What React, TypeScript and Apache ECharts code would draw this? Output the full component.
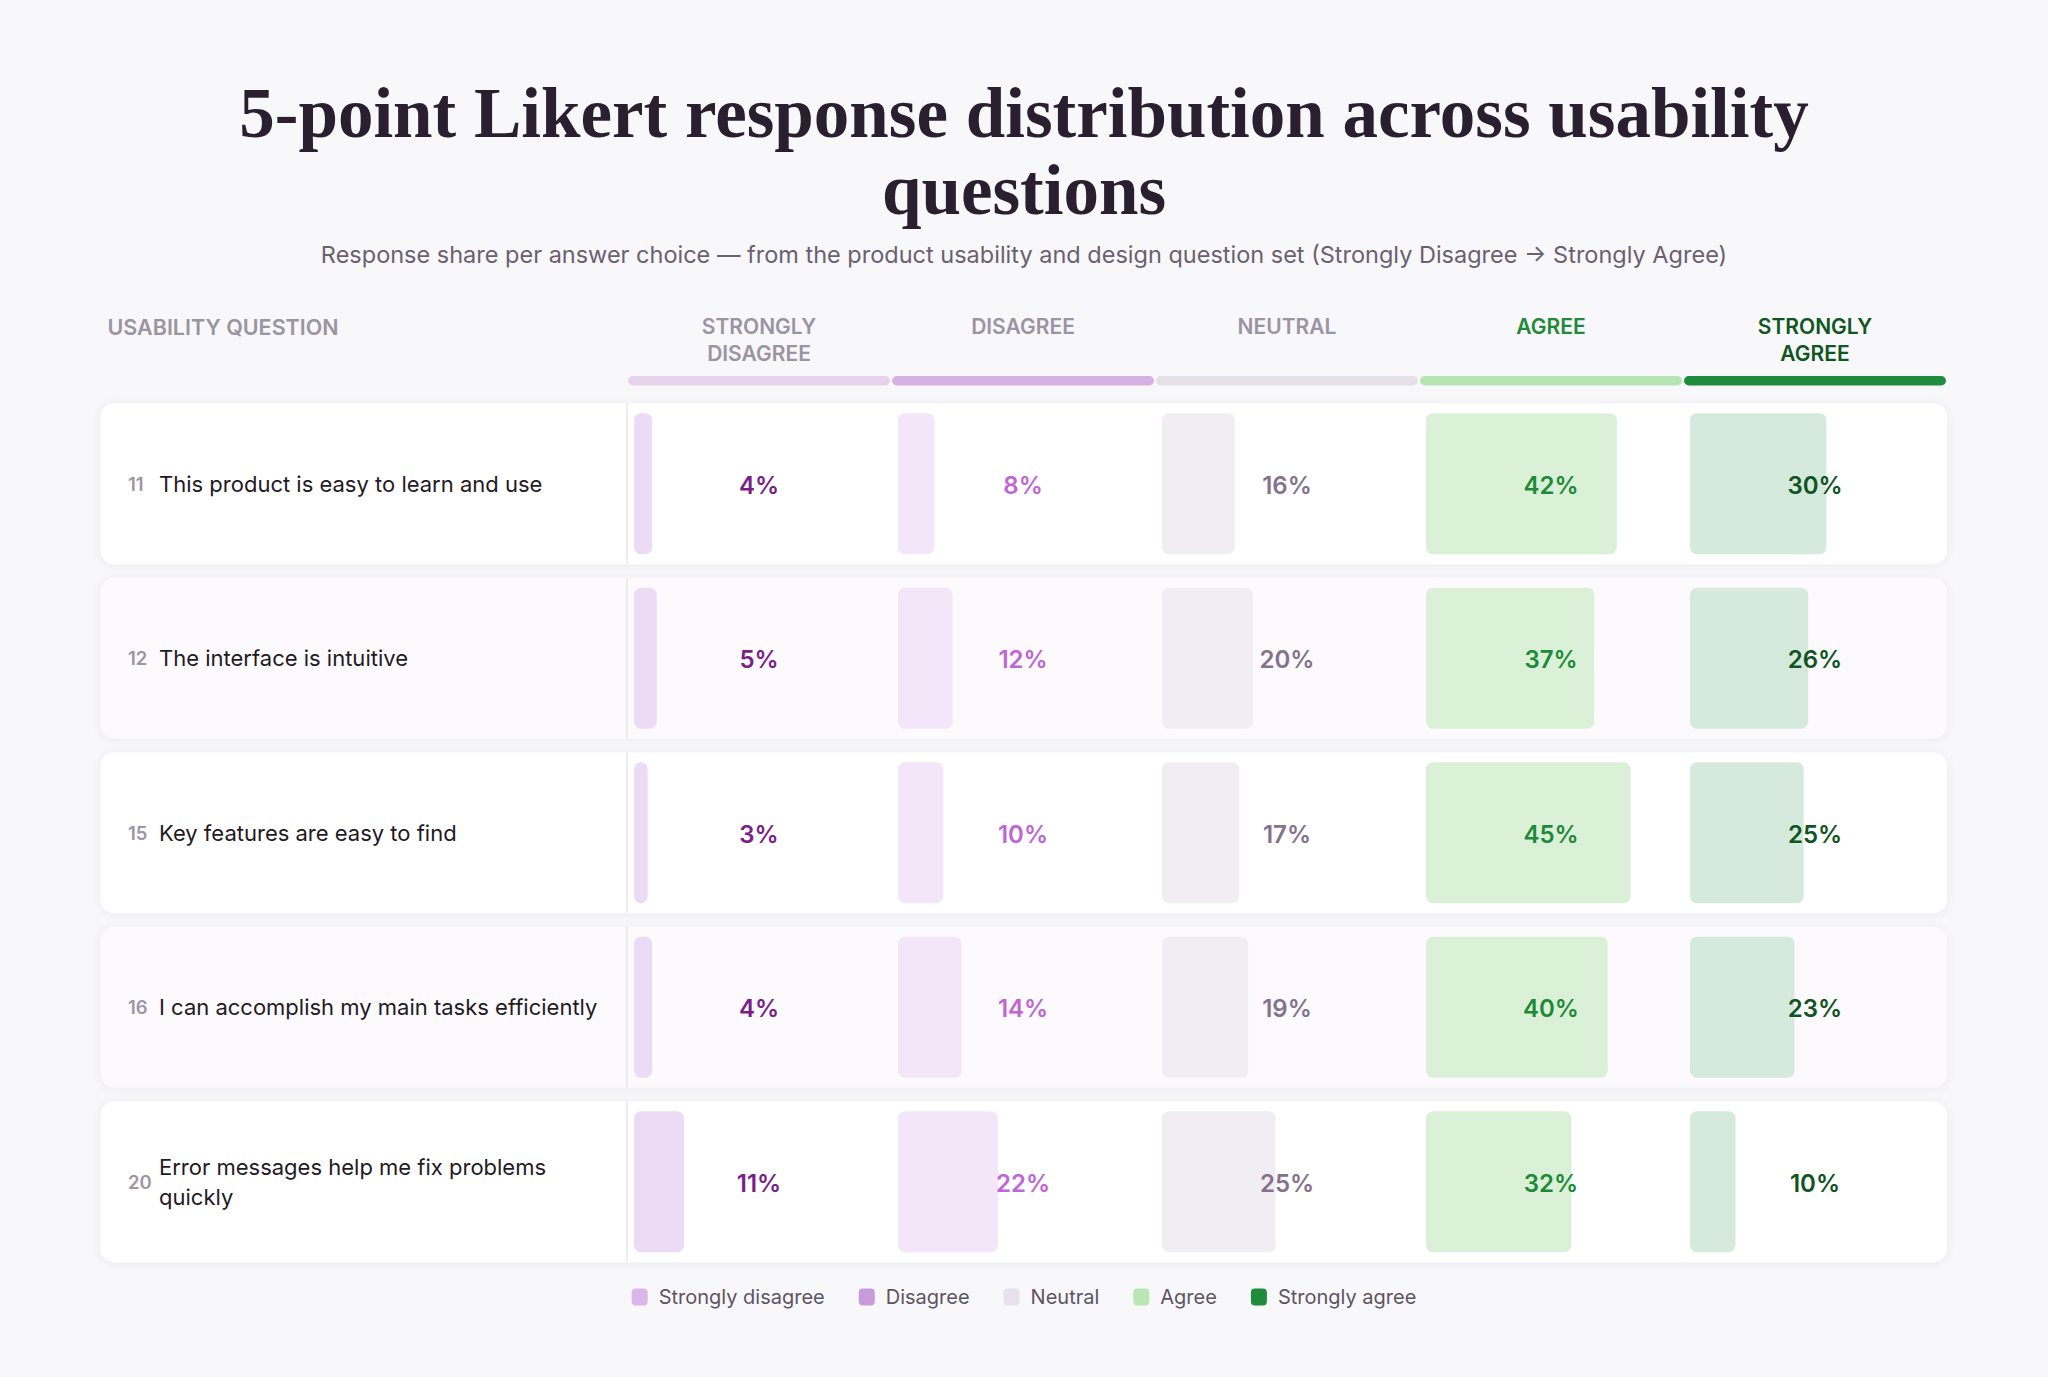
import React, { useEffect, useRef } from "react";
import * as echarts from "echarts";

// ---- data ----
const questionIds = ["11", "12", "15", "16", "20"];
const questions = [
  "This product is easy to learn and use",
  "The interface is intuitive",
  "Key features are easy to find",
  "I can accomplish my main tasks efficiently",
  "Error messages help me fix problems quickly",
];
const responseLevels = ["Strongly disagree", "Disagree", "Neutral", "Agree", "Strongly agree"];
const columnHeaders = ["STRONGLY\nDISAGREE", "DISAGREE", "NEUTRAL", "AGREE", "STRONGLY\nAGREE"];

const stronglyDisagree = [4, 5, 3, 4, 11];
const disagree = [8, 12, 10, 14, 22];
const neutral = [16, 20, 17, 19, 25];
const agree = [42, 37, 45, 40, 32];
const stronglyAgree = [30, 26, 25, 23, 10];

const seriesValues = [stronglyDisagree, disagree, neutral, agree, stronglyAgree];

const titleText = "5-point Likert response distribution across usability\nquestions";
const subtitleText =
  "Response share per answer choice \u2014 from the product usability and design question set (Strongly Disagree \u2192 Strongly Agree)";

// ---- styling ----
const FONT = "Inter, 'Noto Sans', sans-serif";
const barFill = ["#ecdbf4", "#f3e6f8", "#f0eef3", "#dbf1d7", "#d5eadc"];
const labelColor = ["#7a1f88", "#c065d6", "#84728c", "#1c8a39", "#0f5421"];
const stripColor = ["#e7d3ec", "#d5b2e3", "#e6e1e9", "#b7e5b1", "#1f8b3d"];
const legendColor = ["#dbb6ea", "#c99bdc", "#e6e1ea", "#b9e6b2", "#1f8b3c"];
const headerColor = ["#9b94a2", "#9b94a2", "#9b94a2", "#1e8a3a", "#10561f"];

// ---- layout ----
const CARD_LEFT = 100.5;
const CARD_RIGHT = 1947;
const COL_START = 627;
const COL_W = 264;
const BAR_INSET = 7;
const PLOT_W = 250;
const ROWS_TOP = 396.5;
const ROW_PITCH = 174.5;
const CARD_H = 161;
const BAR_H = 141;
const AXIS_MAX = 55;

const colLeft = (c: number) => COL_START + c * COL_W;
const plotLeft = (c: number) => colLeft(c) + BAR_INSET;

function buildOption(): any {
  const nRows = questions.length;
  const gridHeight = ROW_PITCH * nRows;

  const grids: any[] = responseLevels.map((_, c) => ({
    left: plotLeft(c),
    top: ROWS_TOP,
    width: PLOT_W,
    height: gridHeight,
  }));
  grids.push({ left: CARD_LEFT, top: ROWS_TOP, width: CARD_RIGHT - CARD_LEFT, height: gridHeight });

  const xAxes: any[] = responseLevels.map((_, c) => ({
    type: "value",
    gridIndex: c,
    min: 0,
    max: AXIS_MAX,
    show: false,
  }));
  xAxes.push({ type: "value", gridIndex: 5, min: 0, max: 1, show: false });

  const hiddenCat = (gridIndex: number) => ({
    type: "category",
    gridIndex,
    data: questions,
    inverse: true,
    show: false,
  });

  const yAxes: any[] = [
    // question numbers
    {
      type: "category",
      gridIndex: 0,
      data: questions,
      inverse: true,
      position: "left",
      z: 10,
      axisLine: { show: false },
      axisTick: { show: false },
      splitLine: { show: false },
      axisLabel: {
        interval: 0,
        formatter: (_v: string, i: number) => questionIds[i],
        align: "left",
        margin: plotLeft(0) - 128,
        padding: [3, 0, 0, 0],
        fontSize: 18.5,
        fontWeight: 600,
        color: "#9c95a5",
        fontFamily: FONT,
      },
    },
    // question text
    {
      type: "category",
      gridIndex: 0,
      data: questions,
      inverse: true,
      position: "left",
      z: 10,
      axisLine: { show: false },
      axisTick: { show: false },
      splitLine: { show: false },
      axisLabel: {
        interval: 0,
        align: "left",
        margin: plotLeft(0) - 159,
        padding: [3, 0, 0, 0],
        width: 450,
        overflow: "break",
        lineHeight: 30,
        fontSize: 22,
        color: "#1f1a24",
        fontFamily: FONT,
      },
    },
    hiddenCat(1),
    hiddenCat(2),
    hiddenCat(3),
    hiddenCat(4),
    hiddenCat(5),
  ];

  const cardSeries = {
    type: "custom",
    name: "rows",
    xAxisIndex: 5,
    yAxisIndex: 6,
    z: 1,
    silent: true,
    data: questions.map((_, i) => [0, i]),
    renderItem: (params: any, api: any) => {
      const cs = params.coordSys;
      const idx = api.value(1);
      const pt = api.coord([0, idx]);
      const top = pt[1] - CARD_H / 2;
      const dividerX = cs.x + (COL_START - CARD_LEFT);
      return {
        type: "group",
        children: [
          {
            type: "rect",
            shape: { x: cs.x, y: top, width: cs.width, height: CARD_H, r: 14 },
            style: {
              fill: idx % 2 ? "#fcfafd" : "#ffffff",
              shadowBlur: 8,
              shadowColor: "rgba(70,50,90,0.07)",
              shadowOffsetY: 1,
            },
          },
          {
            type: "line",
            shape: { x1: dividerX, y1: top, x2: dividerX, y2: top + CARD_H },
            style: { stroke: "#eeebf1", lineWidth: 2 },
          },
        ],
      };
    },
  };

  const barSeries = responseLevels.map((name, c) => ({
    type: "bar",
    name,
    xAxisIndex: c,
    yAxisIndex: c === 0 ? 0 : c + 1,
    data: seriesValues[c],
    barWidth: BAR_H,
    z: 3,
    itemStyle: { color: barFill[c], borderRadius: 7 },
    label: {
      show: true,
      position: [COL_W / 2 - BAR_INSET, "50%"],
      offset: [0, 1.5],
      align: "center",
      verticalAlign: "middle",
      formatter: "{c}%",
      color: labelColor[c],
      fontSize: 24,
      fontWeight: 600,
      fontFamily: FONT,
    },
    emphasis: { disabled: true },
  }));

  const graphic: any[] = [
    {
      type: "text",
      x: 107.5,
      y: 326.5,
      style: {
        text: "USABILITY QUESTION",
        align: "left",
        verticalAlign: "middle",
        fontSize: 21.5,
        fontWeight: 600,
        fontFamily: FONT,
        fill: "#9b94a2",
      },
    },
  ];
  columnHeaders.forEach((h, c) => {
    graphic.push({
      type: "text",
      x: colLeft(c) + COL_W / 2,
      y: 313,
      style: {
        text: h,
        align: "center",
        verticalAlign: "top",
        lineHeight: 27,
        fontSize: 21,
        fontWeight: 600,
        fontFamily: FONT,
        fill: headerColor[c],
      },
    });
    graphic.push({
      type: "rect",
      shape: { x: colLeft(c) + 1, y: 376, width: COL_W - 2, height: 9.5, r: 4.75 },
      style: { fill: stripColor[c] },
    });
  });

  return {
    animation: false,
    backgroundColor: "#f8f8fa",
    title: [
      {
        text: titleText,
        left: "center",
        top: 74,
        padding: 0,
        textStyle: {
          fontFamily: "'Liberation Serif', 'DejaVu Serif', serif",
          fontSize: 71,
          fontWeight: "bold",
          lineHeight: 77,
          color: "#2a1f2e",
        },
      },
      {
        text: subtitleText,
        left: "center",
        top: 239,
        padding: 0,
        textStyle: {
          fontFamily: FONT,
          fontSize: 23.5,
          fontWeight: "normal",
          lineHeight: 30,
          color: "#6a6070",
        },
      },
    ],
    legend: {
      left: "center",
      top: 1287,
      padding: 0,
      itemWidth: 16,
      itemHeight: 17,
      itemGap: 34,
      icon: "roundRect",
      selectedMode: false,
      data: responseLevels.map((n, i) => ({ name: n, itemStyle: { color: legendColor[i] } })),
      textStyle: { fontSize: 20, color: "#5d5463", fontFamily: FONT, padding: [0, 0, 0, 6] },
    },
    grid: grids,
    xAxis: xAxes,
    yAxis: yAxes,
    series: [cardSeries, ...barSeries],
    graphic,
  };
}

export default function App() {
  const ref = useRef<HTMLDivElement>(null);
  useEffect(() => {
    if (!ref.current) return;
    const chart = echarts.init(ref.current, undefined, { renderer: "svg" });
    chart.setOption(buildOption());
    return () => chart.dispose();
  }, []);
  return (
    <div
      ref={ref}
      style={{ position: "fixed", left: 0, top: 0, width: 2048, height: 1377 }}
    />
  );
}
